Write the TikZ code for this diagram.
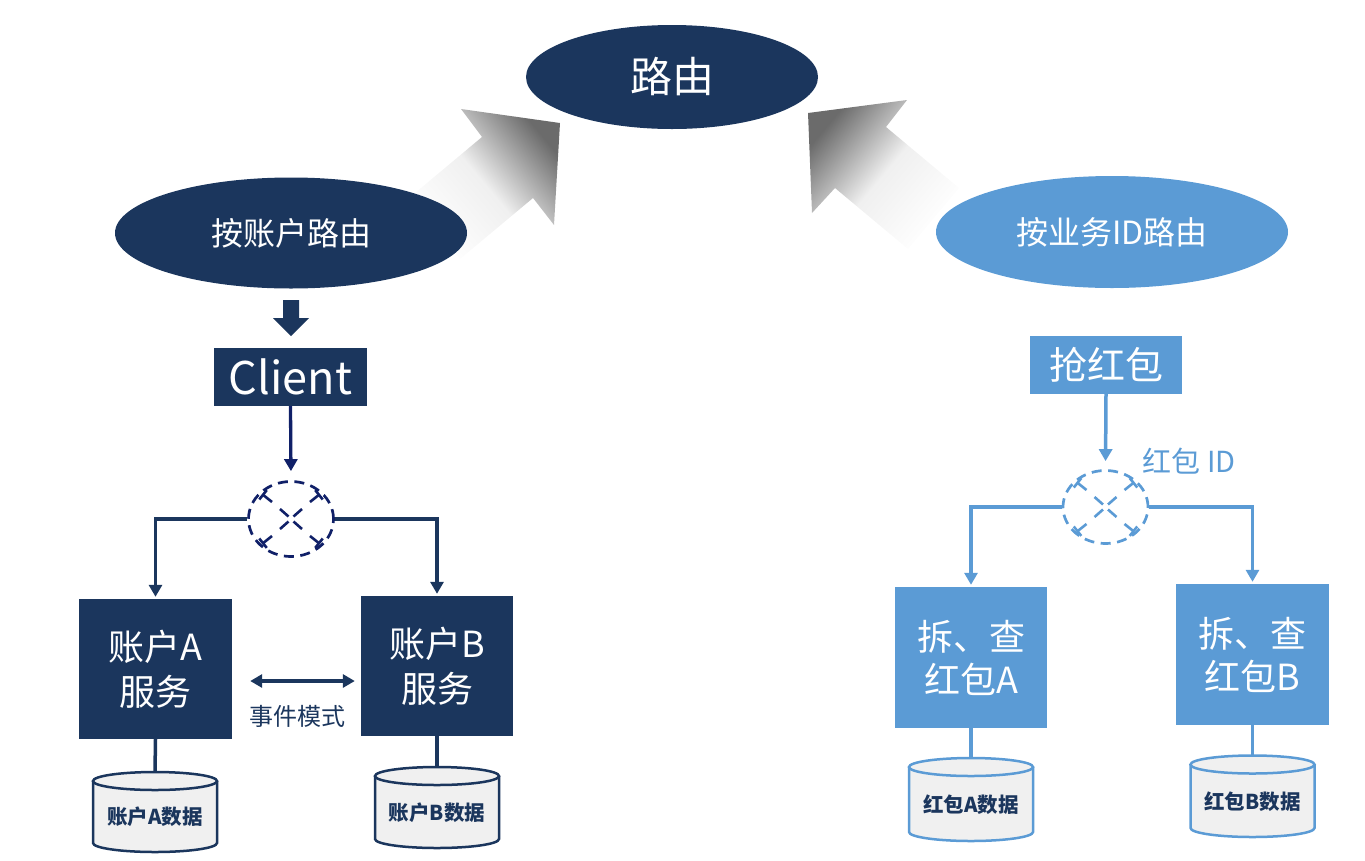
\documentclass[tikz,border=0pt]{standalone}
\usepackage{fontspec}
\setmainfont{Noto Sans CJK SC}
\usetikzlibrary{arrows.meta,calc,shapes.geometric}
\definecolor{navy}{HTML}{1B365D}
\definecolor{dkblue}{HTML}{102068}
\definecolor{ltblue}{HTML}{5B9BD5}
\definecolor{cylfill}{HTML}{F0F0F0}
\newcommand\dbcyl[7]{%
  \fill[cylfill] (#2,#4) ellipse[x radius=#5, y radius=9];
  \fill[cylfill] (#2-#5,#3) rectangle (#2+#5,#4);
  \draw[#6, line width=2.5pt] (#2-#5,#3) -- (#2-#5,#4) arc[start angle=180, end angle=0, x radius=#5, y radius=9] -- (#2+#5,#3);
  \draw[#6, line width=2.5pt, fill=cylfill] (#2,#3) ellipse[x radius=#5, y radius=9];
  \coordinate (#1top) at (#2,#3-9);
  \node[dbtext] (#1) at (#2,{(#3+#4)/2+5}) {#7};
}
\newcommand\xarms[2]{%
  \foreach \sx/\sy in {-1/-1,1/-1,-1/1,1/1}{%
    \draw[#2, line width=2.6pt] ($(#1)+(\sx*2.5,\sy*2.5)$) -- ($(#1)+(\sx*11,\sy*10)$);
    \draw[#2, line width=2.6pt, -{Bar[width=12pt]}] ($(#1)+(\sx*19,\sy*17)$) -- ($(#1)+(\sx*29,\sy*25)$);
  }%
}
\tikzset{
  ell/.style={ellipse, inner sep=0pt, text=white},
  sbox/.style={rectangle, inner sep=0pt, text=white, align=center},
  swc/.style={ellipse, draw, dash pattern=on 10pt off 6.5pt, line width=2.7pt, minimum width=85pt, minimum height=75pt, inner sep=0pt},
  dbtext/.style={text=navy, font=\fontsize{20.5}{24}\selectfont\bfseries, inner sep=0pt},
  tip/.style={-{Triangle[width=13pt,length=12pt]}},
  nline/.style={navy, line width=3.5pt},
  bline/.style={ltblue, line width=3.5pt},
}
\begin{document}
\begin{tikzpicture}[x=1pt,y=-1pt]
\useasboundingbox (0,0) rectangle (1365,860);
% gradient arrows
\shade[top color=black!58, bottom color=white, middle color=black!6, shading angle=-50]
  (409,198) -- (482,137) -- (461,109) -- (560,123) -- (554,225) -- (533,198) -- (460,259) -- cycle;
\shade[top color=black!58, bottom color=white, middle color=black!6, shading angle=50]
  (808,113) -- (907,100) -- (886,127) -- (959,188) -- (908,249) -- (835,188) -- (812,213) -- cycle;
% ellipses
\node[ell, fill=navy, minimum width=292pt, minimum height=104pt, font=\fontsize{42}{50}\selectfont] (route) at (672,77) {路由};
\node[ell, fill=navy, minimum width=352pt, minimum height=111pt, font=\fontsize{32}{38}\selectfont] (byacct) at (291,233) {按账户路由};
\node[ell, fill=ltblue, minimum width=352pt, minimum height=112pt, font=\fontsize{32}{38}\selectfont] (bybiz) at (1112,232) {按业务ID路由};
% left side
\fill[navy] (283,300) -- (299,300) -- (299,318) -- (309,318) -- (291,336) -- (273,318) -- (283,318) -- cycle;
\node[sbox, fill=navy, minimum width=153pt, minimum height=58pt, font=\fontsize{45}{50}\selectfont] (client) at (290.5,377) {Client};
\node[swc, dkblue] (sw1) at (291,519) {};
\xarms{sw1}{dkblue}
\node[sbox, fill=navy, minimum width=153pt, minimum height=140pt, font=\fontsize{36}{45}\selectfont] (accA) at (155.5,669) {账户A\\服务};
\node[sbox, fill=navy, minimum width=152pt, minimum height=140pt, font=\fontsize{36}{45}\selectfont] (accB) at (437,666) {账户B\\服务};
\node[text=navy, inner sep=0pt, font=\fontsize{24}{28}\selectfont] (evt) at (297,716) {事件模式};
\draw[dkblue, line width=3.3pt, tip, shorten >=9pt] (client.south) -- (sw1.north);
\draw[nline, tip, shorten >=2pt] (sw1.west) -| (accA.north);
\draw[nline, tip, shorten >=2pt] (sw1.east) -| (accB.north);
\draw[nline, {Triangle[width=13pt,length=12pt]}-{Triangle[width=13pt,length=12pt]}, shorten <=18pt, shorten >=6pt] (accA.east |- 0,681) -- (accB.west |- 0,681);
\dbcyl{dbA}{155}{781}{843}{62}{navy}{账户A数据}
\dbcyl{dbB}{437}{776}{839}{62}{navy}{账户B数据}
\draw[nline] (accA.south) -- (dbAtop);
\draw[nline] (accB.south) -- (dbBtop);
% right side
\node[sbox, fill=ltblue, minimum width=152pt, minimum height=58pt, font=\fontsize{38}{44}\selectfont] (grab) at (1106,365) {抢红包};
\node[swc, ltblue, minimum height=73pt] (sw2) at (1105.5,507) {};
\xarms{sw2}{ltblue}
\node[text=ltblue, inner sep=0pt, font=\fontsize{29}{34}\selectfont] (rid) at (1189,461) {红包 ID};
\node[sbox, fill=ltblue, minimum width=152pt, minimum height=141pt, font=\fontsize{36}{43}\selectfont] (rbA) at (971,657.5) {拆、查\\红包A};
\node[sbox, fill=ltblue, minimum width=153pt, minimum height=141pt, font=\fontsize{36}{43}\selectfont] (rbB) at (1252.5,654.5) {拆、查\\红包B};
\draw[bline, tip, shorten >=8pt] (grab.south) -- (sw2.north);
\draw[bline, tip, shorten >=2pt] (sw2.west) -| (rbA.north);
\draw[bline, tip, shorten >=2pt] (sw2.east) -| (rbB.north);
\dbcyl{dbC}{971}{767}{832}{62}{ltblue}{红包A数据}
\dbcyl{dbD}{1252.5}{764.5}{828}{62}{ltblue}{红包B数据}
\draw[bline] (rbA.south) -- (dbCtop);
\draw[bline] (rbB.south) -- (dbDtop);
\end{tikzpicture}
\end{document}
